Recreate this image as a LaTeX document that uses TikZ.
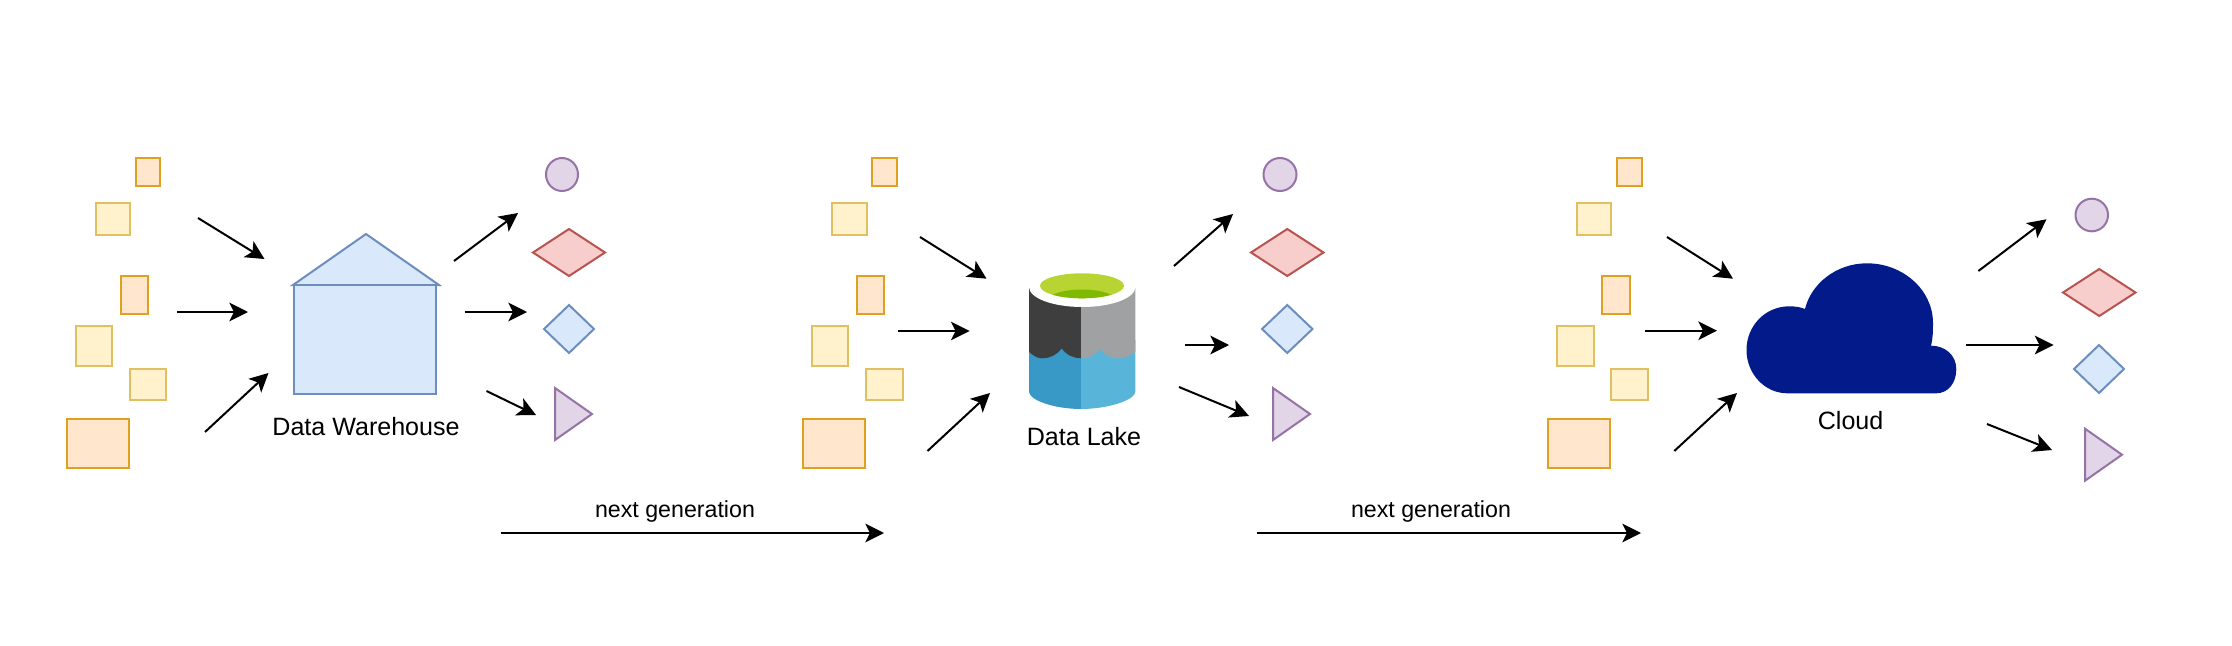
\documentclass[tikz,border=0pt]{standalone}
\usepackage{fontspec}
\setmainfont{Liberation Sans}
\usetikzlibrary{shapes.geometric,arrows.meta}
\definecolor{orgF}{HTML}{FFE6CC}\definecolor{orgD}{HTML}{E0A020}
\definecolor{yelF}{HTML}{FFF2CC}\definecolor{yelD}{HTML}{E0C060}
\definecolor{redF}{HTML}{F8CECC}\definecolor{redD}{HTML}{B85450}
\definecolor{bluF}{HTML}{DAE8FC}\definecolor{bluD}{HTML}{6C8EBF}
\definecolor{purF}{HTML}{E1D5E7}\definecolor{purD}{HTML}{9673A6}
\definecolor{cloudC}{HTML}{031B8A}
\definecolor{lkDark}{HTML}{3E3E3E}\definecolor{lkGray}{HTML}{A0A1A2}
\definecolor{lkBlue}{HTML}{3999C6}\definecolor{lkSky}{HTML}{59B4D9}
\definecolor{lkGreen}{HTML}{B8D432}\definecolor{lkDeep}{HTML}{7FBA00}
\tikzset{
  x=0.75pt,y=-0.75pt,
  flow/.style={draw=black,line width=1.5pt,-{Stealth[length=14pt,width=14pt,inset=3.5pt]},shorten >=0pt},
  box/.style={rectangle,inner sep=0pt,outer sep=0pt,line width=1.5pt},
  orgbox/.style={box,draw=orgD,fill=orgF},
  yelbox/.style={box,draw=yelD,fill=yelF},
  bubble/.style={ellipse,inner sep=0pt,outer sep=0pt,line width=1.5pt,draw=purD,fill=purF},
  gem/.style={diamond,aspect=1,inner sep=0pt,outer sep=0pt,line width=1.5pt},
  redgem/.style={gem,draw=redD,fill=redF},
  blugem/.style={gem,draw=bluD,fill=bluF},
  wedge/.style={line width=1.5pt,draw=purD,fill=purF,line join=miter},
  house/.style={line width=1.5pt,draw=bluD,fill=bluF,line join=miter},
  lbl/.style={inner sep=0pt,outer sep=0pt,text=black,font=\fontsize{18.8pt}{22pt}\selectfont},
  gen/.style={inner sep=0pt,outer sep=0pt,text=black,font=\fontsize{17.4pt}{21pt}\selectfont},
}
% name, style, x1, y1, x2, y2
\newcommand{\shp}[6]{\node[#2,minimum width={(#5-#3)*0.75pt},minimum height={(#6-#4)*0.75pt}] (#1) at ({(#3+#5)/2},{(#4+#6)/2}) {};}
% arrow: name, x1, y1, x2, y2
\newcommand{\arw}[5]{\coordinate (#1a) at (#2,#3);\coordinate (#1b) at (#4,#5);\draw[flow] (#1a) -- (#1b);}
\begin{document}
\begin{tikzpicture}
\useasboundingbox (0,0) rectangle (2232,646);
% ---------- panel 1
\shp{aA}{orgbox}{136}{158}{160}{186}
\shp{aB}{yelbox}{95.5}{203}{130}{235}
\shp{aC}{orgbox}{121}{276}{148}{314}
\shp{aD}{yelbox}{76}{326}{112}{366}
\shp{aE}{yelbox}{130}{369}{166}{400}
\shp{aF}{orgbox}{66.5}{419}{128.5}{468}
\draw[house] (293,285) -- (366,234) -- (439,285) -- cycle;
\shp{aH}{box,draw=bluD,fill=bluF}{293.5}{285}{436}{394}
\node[lbl] (aT) at (366,427) {Data Warehouse};
\shp{aP}{bubble}{546}{158}{578}{191}
\shp{aQ}{redgem}{533}{229}{605}{276}
\shp{aR}{blugem}{544}{305}{594}{353}
\draw[wedge] (555,388) -- (592,414) -- (555,440) -- cycle;
\arw{a1}{198}{218}{264.5}{259}
\arw{a2}{177}{312}{248}{312}
\arw{a3}{205}{432}{268.5}{373}
\arw{a4}{454}{261}{518}{213}
\arw{a5}{464.5}{312}{527}{312}
\arw{a6}{486.5}{391}{536}{415}
% ---------- next generation
\node[gen] (g1) at (675,511) {next generation};
\arw{g1}{500.7}{533}{884}{533}
\node[gen] (g2) at (1431,511) {next generation};
\arw{g2}{1257}{533}{1641}{533}
% ---------- panel 2
\shp{bA}{orgbox}{872}{158}{896.5}{186}
\shp{bB}{yelbox}{832}{203}{867}{235}
\shp{bC}{orgbox}{857}{276}{884}{314}
\shp{bD}{yelbox}{812}{326}{848}{366}
\shp{bE}{yelbox}{866}{369}{902.5}{400}
\shp{bF}{orgbox}{803}{419}{864.6}{468}
% lake cylinder
\fill[lkBlue] (1029,340) -- (1081,340) -- (1081,409) .. controls (1054,409) and (1029,400) .. (1029,391.7) -- cycle;
\fill[lkSky] (1081,340) -- (1135.3,340) -- (1135.3,391.7) .. controls (1135.3,400) and (1108,409) .. (1081,409) -- cycle;
\fill[lkDark] (1029,288) -- (1081,288) -- (1081,358.3) .. controls (1074,358.3) and (1066,355) .. (1061.7,348.3)
  .. controls (1057,355) and (1050,358.3) .. (1042,358.3) .. controls (1037,358.3) and (1032,355) .. (1029,351.7) -- cycle;
\fill[lkGray] (1081,288) -- (1135.3,288) -- (1135.3,351.7) .. controls (1131,355) and (1126,358.3) .. (1119,358.3)
  .. controls (1111,358.3) and (1104,355) .. (1100,348.3) .. controls (1096,355) and (1089,358.3) .. (1081,358.3) -- cycle;
\fill[white] (1082.2,287) ellipse [x radius=53.2,y radius=20];
\fill[lkGreen] (1082,285.8) ellipse [x radius=42,y radius=12.5];
\begin{scope}
  \clip (1082,285.8) ellipse [x radius=42,y radius=12.5];
  \fill[lkDeep] (1082,302) ellipse [x radius=36,y radius=12.5];
\end{scope}
\node[lbl] (bT) at (1084,437) {Data Lake};
\shp{bP}{bubble}{1263.5}{158}{1296.5}{191}
\shp{bQ}{redgem}{1251}{229}{1323.5}{276}
\shp{bR}{blugem}{1262}{305}{1312.5}{353}
\draw[wedge] (1273,388) -- (1310,414) -- (1273,440) -- cycle;
\arw{b1}{920}{237}{986.5}{278.7}
\arw{b2}{898}{331}{969.6}{331}
\arw{b3}{927.5}{451}{990}{393}
\arw{b4}{1174}{266}{1233}{214}
\arw{b5}{1184.6}{345}{1229}{345}
\arw{b6}{1179}{387}{1249}{416}
% ---------- panel 3
\shp{cA}{orgbox}{1617}{158}{1641.6}{186}
\shp{cB}{yelbox}{1577}{203}{1611.4}{235}
\shp{cC}{orgbox}{1601.6}{276}{1630}{314}
\shp{cD}{yelbox}{1556.7}{326}{1594}{366}
\shp{cE}{yelbox}{1610.6}{369}{1647.8}{400}
\shp{cF}{orgbox}{1547.8}{419}{1609.8}{468}
\fill[cloudC] (1787.3,393.3) -- (1936.3,393.3)
  .. controls (1948,393.3) and (1956.3,383) .. (1956.3,369.3)
  .. controls (1956.3,355) and (1945,345.7) .. (1931,345.7)
  .. controls (1933,338) and (1933,330) .. (1933,323)
  .. controls (1933,290) and (1903,263.3) .. (1867,263.3)
  .. controls (1836,263.3) and (1811,284) .. (1805,309)
  .. controls (1800,307) and (1795,306.3) .. (1789.4,306.3)
  .. controls (1765,306.3) and (1746.5,326) .. (1746.5,350)
  .. controls (1746.5,374) and (1765,393.3) .. (1787.3,393.3) -- cycle;
\node[lbl] (cT) at (1850.6,421) {Cloud};
\shp{cP}{bubble}{2075.5}{198.7}{2108}{231.3}
\shp{cQ}{redgem}{2063}{269}{2135.5}{316}
\shp{cR}{blugem}{2074}{345}{2124}{393}
\draw[wedge] (2085,428.7) -- (2122,454.7) -- (2085,480.7) -- cycle;
\arw{c1}{1667}{237}{1733}{278.7}
\arw{c2}{1645.3}{330.7}{1717}{330.7}
\arw{c3}{1674.3}{451}{1737}{393}
\arw{c4}{1978.4}{271}{2046.5}{219.3}
\arw{c5}{1966}{345}{2053.5}{345}
\arw{c6}{1987}{424}{2052}{450}
\end{tikzpicture}
\end{document}
